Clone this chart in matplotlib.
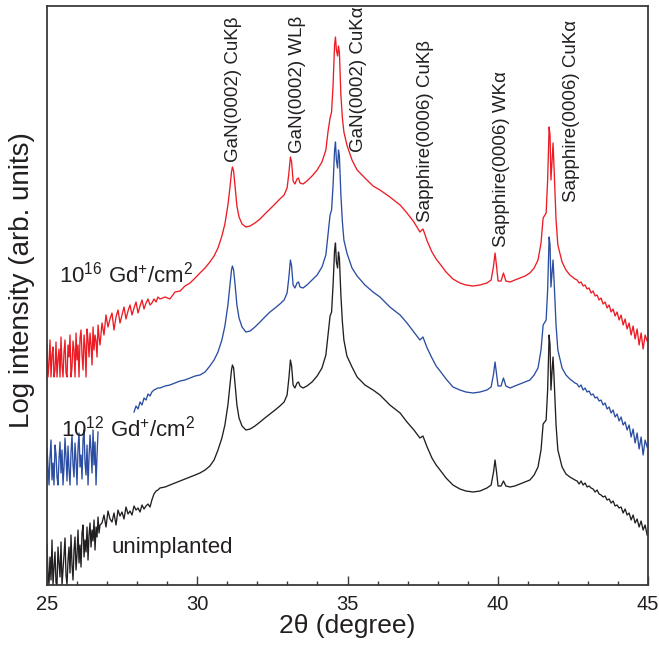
import numpy as np
import matplotlib
matplotlib.use("Agg")
import matplotlib.pyplot as plt
from matplotlib.ticker import MultipleLocator

plt.rcParams['font.family'] = ['Liberation Sans', 'DejaVu Sans']
plt.rcParams['mathtext.fontset'] = 'custom'
plt.rcParams['mathtext.rm'] = 'Liberation Sans'
plt.rcParams['mathtext.it'] = 'Liberation Sans:italic'

# ---------------- data: 2theta grid (deg) ----------------
tth_scan_a = 25.0 + 0.0333 * np.arange(54)      # low-angle noisy scan
tth_scan_b = 26.83 + 0.0666 * np.arange(25)
tth_peaks = [28.49, 28.56, 28.63, 28.69, 28.76, 28.93, 29.09, 29.26, 29.43, 29.59,
             29.76, 29.93, 30.09, 30.26, 30.42, 30.56, 30.69, 30.82, 30.92, 31.02,
             31.09, 31.14, 31.17, 31.21, 31.26, 31.32, 31.39, 31.49, 31.62, 31.76,
             31.92, 32.09, 32.25, 32.42, 32.59, 32.75, 32.89, 32.99, 33.05, 33.10,
             33.14, 33.19, 33.25, 33.32, 33.37, 33.42, 33.52, 33.65, 33.82, 33.99,
             34.15, 34.28, 34.35, 34.42, 34.47, 34.52, 34.57, 34.60, 34.63, 34.67,
             34.70, 34.73, 34.78, 34.83, 34.88, 34.98, 35.15, 35.32, 35.58, 35.85,
             36.08, 36.41, 36.75, 36.98, 37.21, 37.41, 37.51, 37.56, 37.65, 37.81,
             37.95, 38.08, 38.28, 38.51, 38.74, 38.94, 39.18, 39.41, 39.64, 39.78,
             39.86, 39.91, 39.96, 40.01, 40.11, 40.19, 40.27, 40.41, 40.57, 40.74,
             40.91, 41.07, 41.21, 41.34, 41.44, 41.51, 41.61, 41.66, 41.71, 41.74,
             41.77, 41.81, 41.84, 41.87, 41.94, 42.00, 42.14, 42.27, 42.40, 42.57]
tth_scan_d = 42.64 + 0.0666 * np.arange(36)

# ---------------- log intensity (arb. units, offset curves) ----------------
unimpl_a = [40, 12, 0, 28, 5, 45, 0, 18, 33, 2, 0, 38, 22, 8, 43, 0, 15, 30, 47, 10,
            0, 25, 38, 12, 50, 20, 5, 35, 48, 15, 30, 55, 22, 40, 18, 52, 60, 28, 45, 33,
            58, 25, 50, 62, 38, 55, 44, 65, 35, 58, 48, 68, 52, 60]
unimpl_b = [62, 70, 58, 74, 66, 63, 72, 60, 75, 69, 73, 66, 78, 71, 74, 70, 79, 75, 77, 73,
            80, 76, 79, 81, 78]
unimpl_c = [85, 91, 94, 95, 97, 98, 100, 102, 104, 106,
            108, 110, 112, 115, 119, 125, 135, 147, 160, 180,
            200, 215, 220, 217, 200, 180, 167, 159, 155, 156,
            159, 163, 167, 171, 175, 179, 183, 190, 207, 225,
            219, 200, 197, 202, 203, 199, 197, 199, 203, 209,
            217, 230, 250, 269, 273, 300, 335, 342, 323, 317,
            333, 327, 290, 263, 245, 229, 218, 208, 200, 195,
            190, 180, 172, 163, 155, 147, 149, 145, 138, 127,
            120, 115, 107, 100, 96, 94, 93, 94, 97, 100,
            113, 125, 113, 99, 99, 104, 99, 98, 99, 101,
            103, 105, 110, 118, 135, 161, 165, 195, 250, 240,
            195, 215, 228, 210, 160, 135, 118, 111, 108, 105]
unimpl_d = [104, 101, 104, 100, 102, 98, 99, 97, 96, 93, 95, 91, 90, 88, 89, 85, 86, 82,
            84, 79, 80, 77, 78, 72, 76, 70, 72, 65, 70, 62, 66, 58, 64, 55, 60, 50]

gd12_a = [137, 118, 100, 128, 145, 105, 122, 100, 140, 131, 108, 100, 126, 143, 112, 135,
          100, 118, 147, 128, 104, 139, 115, 100, 133, 150, 120, 108, 142, 125, 100, 137,
          152, 118, 130, 106, 145, 155, 122, 110, 140, 100, 128, 150, 135, 112, 155, 120,
          143, 100, 130, 153, np.nan, np.nan]
gd12_b = [np.nan] * 16 + [173, 179, 176, 183, 180, 187, 185, 191, 189]
gd12_c = [193, 195, 196, 197, 197, 199, 200, 202, 204, 205,
          207, 209, 210, 213, 219, 225, 233, 245, 259, 280,
          300, 315, 319, 315, 300, 280, 267, 258, 253, 254,
          258, 263, 268, 273, 277, 281, 285, 292, 308, 325,
          319, 300, 297, 302, 303, 298, 297, 300, 305, 310,
          318, 330, 350, 370, 375, 400, 435, 443, 425, 417,
          435, 429, 390, 363, 345, 332, 317, 309, 300, 293,
          288, 278, 270, 262, 253, 245, 248, 244, 237, 227,
          219, 214, 206, 198, 195, 193, 192, 193, 195, 198,
          211, 223, 211, 199, 199, 207, 199, 197, 199, 201,
          203, 205, 210, 217, 235, 260, 265, 295, 348, 340,
          298, 313, 325, 307, 260, 235, 217, 210, 206, 202]
gd12_d = [201, 198, 200, 195, 197, 193, 194, 190, 191, 187, 188, 184, 185, 180, 182, 176,
          178, 172, 175, 168, 171, 164, 168, 160, 163, 155, 160, 148, 156, 142, 152, 136,
          148, 130, 145, 138]

gd16_a = [240, 208, 222, 245, 208, 230, 238, 208, 215, 243, 208, 226, 236, 208, 248, 220,
          208, 233, 245, 212, 208, 240, 228, 250, 208, 218, 244, 235, 208, 252, 225, 240,
          208, 247, 255, 230, 215, 250, 238, 208, 256, 245, 228, 252, 240, 220, 258, 235,
          250, 244, 228, 260, 248, 240]
gd16_b = [262, 250, 270, 258, 266, 272, 255, 268, 275, 262, 270, 278, 266, 274, 280, 270,
          277, 283, 272, 279, 285, 276, 282, 286, 280]
gd16_c = [282, 286, 283, 288, 286, 288, 286, 293, 294, 299,
          302, 307, 312, 317, 323, 329, 337, 349, 361, 380,
          398, 413, 418, 414, 398, 379, 368, 361, 358, 359,
          362, 366, 371, 376, 381, 386, 390, 397, 412, 428,
          423, 404, 401, 406, 407, 402, 401, 404, 409, 415,
          423, 435, 453, 467, 473, 500, 540, 548, 535, 529,
          539, 533, 490, 467, 453, 440, 425, 415, 407, 399,
          395, 388, 380, 372, 363, 353, 356, 352, 344, 333,
          326, 321, 313, 306, 302, 300, 299, 300, 302, 305,
          319, 332, 319, 304, 304, 312, 304, 303, 305, 307,
          309, 312, 317, 325, 342, 367, 372, 405, 458, 450,
          405, 425, 442, 420, 365, 340, 323, 315, 310, 306]
gd16_d = [305, 302, 303, 299, 300, 296, 297, 292, 294, 289, 290, 285, 287, 281, 283, 277,
          280, 273, 276, 269, 273, 265, 270, 260, 266, 256, 262, 250, 259, 246, 256, 240,
          252, 236, 250, 244]

series_labels = ["unimplanted", r"$\mathregular{10^{12}\ Gd^{+}/cm^{2}}$",
                 r"$\mathregular{10^{16}\ Gd^{+}/cm^{2}}$"]
peak_labels = ["GaN(0002) CuK\u03b2", "GaN(0002) WL\u03b2", "GaN(0002) CuK\u03b1",
               "Sapphire(0006) CuK\u03b2", "Sapphire(0006) WK\u03b1", "Sapphire(0006) CuK\u03b1"]
peak_label_x = [31.19, 33.32, 35.35, 37.61, 40.14, 42.44]
peak_label_y = [423, 432, 433, 363, 338, 383]

# ---------------- plotting ----------------
tth = np.concatenate([tth_scan_a, tth_scan_b, tth_peaks, tth_scan_d])
curves = [
    (np.concatenate([unimpl_a, unimpl_b, unimpl_c, unimpl_d]).astype(float), '#231f20'),
    (np.concatenate([gd12_a, gd12_b, gd12_c, gd12_d]).astype(float), '#2b4ea2'),
    (np.concatenate([gd16_a, gd16_b, gd16_c, gd16_d]).astype(float), '#ed1c24'),
]

fig = plt.figure(figsize=(6.59, 6.46), dpi=100)
ax = fig.add_axes([47 / 659, 61 / 646, 601 / 659, 579 / 646])

for y, c in curves:
    ax.plot(tth, y, color=c, lw=0.95)

ax.set_xlim(25, 45)
ax.set_ylim(0, 579)
ax.set_yticks([])
ax.set_xticks([25, 30, 35, 40, 45])
ax.xaxis.set_minor_locator(MultipleLocator(1))
ax.tick_params(axis='x', which='major', direction='in', length=6.5, width=1.0,
               labelsize=14.5, pad=7, color='#3a3a3a', labelcolor='#231f20')
ax.tick_params(axis='x', which='minor', direction='in', length=3, width=1.0, color='#3a3a3a')
for s in ax.spines.values():
    s.set_linewidth(1.3)
    s.set_color('#3a3a3a')

ax.set_xlabel("2\u03b8 (degree)", fontsize=19, color='#231f20')
ax.xaxis.set_label_coords(0.5, -0.05)
ax.set_ylabel("Log intensity (arb. units)", fontsize=20, color='#231f20')
ax.yaxis.set_label_coords(-0.02, 0.527)

for s, x, y in zip(peak_labels, peak_label_x, peak_label_y):
    ax.text(x, y, s, rotation=90, ha='center', va='bottom', fontsize=13.5, color='#231f20')

label_x = [27.16, 25.47, 25.40]
label_y = [32, 148, 302]
for s, x, y in zip(series_labels, label_x, label_y):
    ax.text(x, y, s, ha='left', va='baseline', fontsize=16, color='#231f20')

fig.savefig("out.png", dpi=100)
